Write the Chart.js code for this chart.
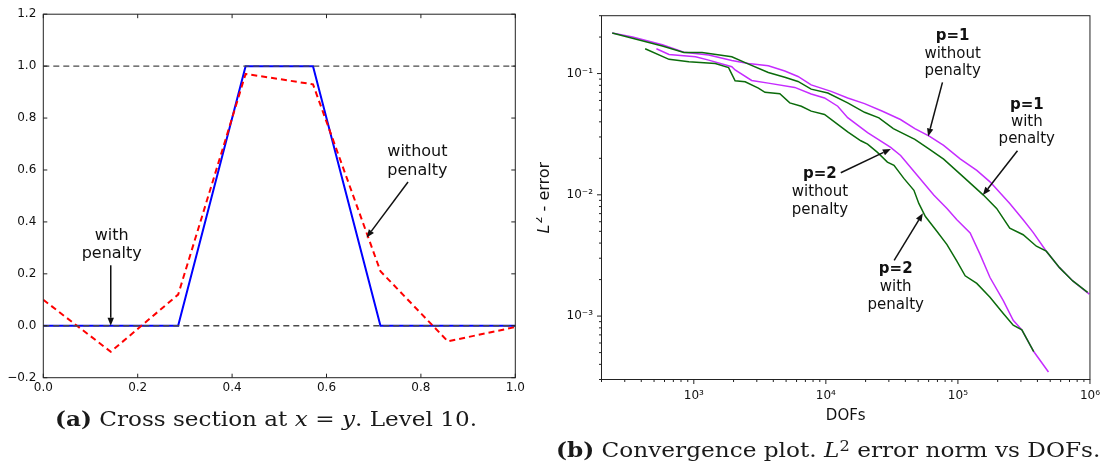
<!DOCTYPE html>
<html><head><meta charset="utf-8">
<script src="https://cdn.jsdelivr.net/npm/chart.js@4/dist/chart.umd.min.js"></script>
<style>
html,body{margin:0;padding:0;background:#fff;}
#wrap{position:relative;width:1109px;height:471px;overflow:hidden;background:#fff;}
#c1box{position:absolute;left:0;top:0;width:540px;height:471px;}
#c2box{position:absolute;left:536px;top:0;width:573px;height:471px;}
.cap{position:absolute;font-family:"DejaVu Serif","Liberation Serif",serif;font-size:20px;line-height:20px;color:#1a1a1a;white-space:nowrap;transform-origin:0 0;}
.cap sup{font-size:0.7em;line-height:0;vertical-align:0.45em;}
</style></head><body>
<div id="wrap">
 <div id="c1box"><canvas id="c1"></canvas></div>
 <div id="c2box"><canvas id="c2"></canvas></div>
 <div class="cap" id="capA" style="top:409px"><b>(a)</b> Cross section at <i>x</i> = <i>y</i>. Level 10.</div>
 <div class="cap" id="capB" style="top:440px"><b>(b)</b> Convergence plot. <i>L</i><sup>2</sup> error norm vs DOFs.</div>
</div>
<script>
// ---------- (a) cross section data ----------
const crossX = [0.0, 0.1429, 0.2857, 0.4286, 0.5714, 0.7143, 0.8571, 1.0];
const crossWithPenalty = [0, 0, 0, 1, 1, 0, 0, 0];
const crossWithoutPenalty = [0.10, -0.10, 0.12, 0.97, 0.93, 0.21, -0.06, -0.005];
const refLevels = [0, 1];
const leftXTicks = [0, 0.2, 0.4, 0.6, 0.8, 1.0];
const leftXTickLabels = ['0.0', '0.2', '0.4', '0.6', '0.8', '1.0'];
const leftYTicks = [-0.2, 0, 0.2, 0.4, 0.6, 0.8, 1.0, 1.2];
const leftYTickLabels = ['\u22120.2', '0.0', '0.2', '0.4', '0.6', '0.8', '1.0', '1.2'];

// ---------- (b) convergence data ----------
const p1NoPenDofs = [241, 344, 578, 841, 1297, 1940, 2592, 3666, 4887, 6150, 7742, 10960, 14630, 19630, 26850, 36730, 47200, 60660, 77960, 104000, 139000, 175000, 247000, 312000, 371000, 467000, 588000, 741000, 988000];
const p1NoPenErr = [0.216, 0.200, 0.173, 0.150, 0.142, 0.128, 0.121, 0.116, 0.105, 0.0946, 0.0807, 0.0713, 0.0629, 0.0565, 0.0489, 0.0418, 0.0351, 0.0305, 0.0256, 0.0198, 0.0159, 0.0128, 0.00849, 0.00622, 0.0049, 0.00343, 0.00251, 0.00195, 0.00152];
const p1PenDofs = [241, 578, 841, 1155, 1940, 2448, 3666, 4887, 6150, 7742, 10350, 14630, 19630, 25230, 32430, 47200, 60660, 77960, 110400, 156000, 196400, 247000, 312000, 393000, 467000, 588000, 741000, 960000];
const p1PenErr = [0.216, 0.169, 0.149, 0.149, 0.1377, 0.123, 0.102, 0.0933, 0.0861, 0.0744, 0.0691, 0.0573, 0.0479, 0.0431, 0.0351, 0.0287, 0.0238, 0.0197, 0.0140, 0.00995, 0.00773, 0.00531, 0.00469, 0.00377, 0.00343, 0.00251, 0.00195, 0.00157];
const p2NoPenDofs = [521, 649, 1030, 1297, 1940, 2055, 2742, 3666, 5815, 7742, 9770, 12300, 14630, 20700, 30960, 36830, 49150, 65600, 82650, 98200, 123800, 147200, 175000, 220600, 262300, 305000, 375000, 485000];
const p2NoPenErr = [0.160, 0.1436, 0.1377, 0.129, 0.114, 0.107, 0.0877, 0.0834, 0.0769, 0.0678, 0.0629, 0.0538, 0.0433, 0.0326, 0.0246, 0.0211, 0.0145, 0.00995, 0.00773, 0.00622, 0.00484, 0.00323, 0.00208, 0.00134, 0.000922, 0.00077, 0.00051, 0.000346];
const p2PenDofs = [428, 649, 917, 1455, 1834, 2055, 2448, 3083, 3460, 4484, 5330, 6520, 7742, 9770, 12300, 14630, 18400, 20700, 24600, 29240, 32810, 39090, 46450, 50580, 56750, 69500, 82650, 98200, 113500, 139000, 175000, 220600, 262300, 305000, 375000];
const p2PenErr = [0.160, 0.131, 0.125, 0.121, 0.112, 0.0871, 0.0855, 0.0759, 0.0700, 0.0682, 0.0573, 0.0538, 0.0490, 0.0460, 0.0381, 0.0330, 0.0279, 0.0262, 0.0224, 0.0186, 0.0175, 0.0136, 0.0109, 0.00849, 0.00662, 0.00499, 0.00389, 0.00284, 0.00215, 0.00186, 0.00143, 0.00105, 0.00084, 0.00077, 0.00051];
const rightXTicks = [1e3, 1e4, 1e5, 1e6];
const rightXTickLabels = ['10\u00B3', '10\u2074', '10\u2075', '10\u2076'];
const rightYTicks = [1e-3, 1e-2, 1e-1];
const rightYTickLabels = ['10\u207B\u00B3', '10\u207B\u00B2', '10\u207B\u00B9'];

// ---------- annotations (data coordinates) ----------
const leftNotes = [
  {lines: ['with', 'penalty'], x: 0.145, y: [0.346, 0.278], from: [0.1429, 0.233], to: [0.1429, 0.0]},
  {lines: ['without', 'penalty'], x: 0.7926, y: [0.669, 0.596], from: [0.7727, 0.554], to: [0.685, 0.340]}
];
const rightNotes = [
  {lines: ['p=1', 'without', 'penalty'], x: 91200, y: [0.204, 0.1445, 0.1038], from: [76400, 0.0845], to: [59500, 0.0303]},
  {lines: ['p=1', 'with', 'penalty'], x: 332500, y: [0.0548, 0.0399, 0.0288], from: [282600, 0.0231], to: [154600, 0.00995]},
  {lines: ['p=2', 'without', 'penalty'], x: 9016, y: [0.01483, 0.01045, 0.0075], from: [12970, 0.0152], to: [31040, 0.0239]},
  {lines: ['p=2', 'with', 'penalty'], x: 33800, y: [0.00243, 0.00172, 0.00124], from: [32900, 0.00288], to: [54300, 0.00705]}
];

const FONT = "'DejaVu Sans', 'Liberation Sans', sans-serif";
Chart.defaults.font.family = FONT;
Chart.defaults.color = '#111';
const MAG = '#c62cff';
const GRN = '#0b6b0b';

function pts(xs, ys) { return xs.map((x, i) => ({x: x, y: ys[i]})); }

function drawArrow(ctx, x0, y0, x1, y1) {
  const a = Math.atan2(y1 - y0, x1 - x0);
  const hl = 8, hw = 3.2;
  const bx = x1 - hl * Math.cos(a), by = y1 - hl * Math.sin(a);
  ctx.beginPath(); ctx.moveTo(x0, y0); ctx.lineTo(bx, by); ctx.stroke();
  ctx.beginPath(); ctx.moveTo(x1, y1);
  ctx.lineTo(bx + hw * Math.sin(a), by - hw * Math.cos(a));
  ctx.lineTo(bx - hw * Math.sin(a), by + hw * Math.cos(a));
  ctx.closePath(); ctx.fill();
}

function drawNotes(chart, notes, size, boldFirst) {
  const ctx = chart.ctx, xs = chart.scales.x, ys = chart.scales.y;
  ctx.save();
  ctx.fillStyle = '#111'; ctx.strokeStyle = '#111'; ctx.lineWidth = 1.5;
  ctx.textAlign = 'center'; ctx.textBaseline = 'middle';
  notes.forEach(n => {
    n.lines.forEach((t, i) => {
      ctx.font = ((boldFirst && i === 0) ? 'bold ' : '') + size + 'px ' + FONT;
      ctx.fillText(t, xs.getPixelForValue(n.x), ys.getPixelForValue(n.y[i]));
    });
    drawArrow(ctx, xs.getPixelForValue(n.from[0]), ys.getPixelForValue(n.from[1]),
                   xs.getPixelForValue(n.to[0]), ys.getPixelForValue(n.to[1]));
  });
  ctx.restore();
}

const leftFrame = {
  id: 'leftFrame',
  afterDraw(chart) {
    const ctx = chart.ctx, a = chart.chartArea, xs = chart.scales.x, ys = chart.scales.y;
    ctx.save();
    ctx.strokeStyle = '#222'; ctx.lineWidth = 1;
    ctx.strokeRect(a.left, a.top, a.right - a.left, a.bottom - a.top);
    const L = 4;
    ctx.beginPath();
    leftXTicks.forEach(v => {
      const p = xs.getPixelForValue(v);
      ctx.moveTo(p, a.bottom); ctx.lineTo(p, a.bottom - L);
      ctx.moveTo(p, a.top); ctx.lineTo(p, a.top + L);
    });
    leftYTicks.forEach(v => {
      const p = ys.getPixelForValue(v);
      ctx.moveTo(a.left, p); ctx.lineTo(a.left + L, p);
      ctx.moveTo(a.right, p); ctx.lineTo(a.right - L, p);
    });
    ctx.stroke();
    ctx.restore();
    drawNotes(chart, leftNotes, 16, false);
  }
};

const rightFrame = {
  id: 'rightFrame',
  afterDraw(chart) {
    const ctx = chart.ctx, a = chart.chartArea, xs = chart.scales.x, ys = chart.scales.y;
    ctx.save();
    ctx.strokeStyle = '#222'; ctx.lineWidth = 1;
    ctx.strokeRect(a.left, a.top, a.right - a.left, a.bottom - a.top);
    ctx.beginPath();
    for (let e = 2; e <= 6; e++) {
      for (let m = 1; m <= 9; m++) {
        const v = m * Math.pow(10, e);
        if (v < xs.min * 0.999 || v > xs.max * 1.001) continue;
        const p = xs.getPixelForValue(v);
        const len = (m === 1) ? 4.5 : 2.5;
        ctx.moveTo(p, a.bottom); ctx.lineTo(p, a.bottom + len);
      }
    }
    for (let e = -4; e <= -1; e++) {
      for (let m = 1; m <= 9; m++) {
        const v = m * Math.pow(10, e);
        if (v < ys.min * 0.999 || v > ys.max * 1.001) continue;
        const p = ys.getPixelForValue(v);
        const len = (m === 1) ? 4.5 : 2.5;
        ctx.moveTo(a.left, p); ctx.lineTo(a.left - len, p);
      }
    }
    ctx.stroke();
    // y axis title: L^2 - error
    ctx.translate(9, (a.top + a.bottom) / 2);
    ctx.rotate(-Math.PI / 2);
    ctx.fillStyle = '#111';
    ctx.textBaseline = 'middle'; ctx.textAlign = 'left';
    const fL = 'italic 16px ' + FONT, fS = '11px ' + FONT, fR = '16px ' + FONT;
    ctx.font = fL; const wL = ctx.measureText('L').width;
    ctx.font = fS; const wS = ctx.measureText('2').width;
    ctx.font = fR; const wR = ctx.measureText(' - error').width;
    let x0 = -(wL + wS + 1 + wR) / 2;
    ctx.font = fL; ctx.fillText('L', x0, 0); x0 += wL + 1;
    ctx.font = fS; ctx.fillText('2', x0, -6); x0 += wS;
    ctx.font = fR; ctx.fillText(' - error', x0, 0);
    ctx.restore();
    drawNotes(chart, rightNotes, 15, true);
  }
};

new Chart(document.getElementById('c1'), {
  type: 'line',
  data: {datasets: [
    {data: [{x: 0, y: refLevels[0]}, {x: 1, y: refLevels[0]}], borderColor: '#4a4a4a', borderWidth: 1.3, borderDash: [6, 4], order: 0},
    {data: [{x: 0, y: refLevels[1]}, {x: 1, y: refLevels[1]}], borderColor: '#4a4a4a', borderWidth: 1.3, borderDash: [6, 4], order: 0},
    {data: pts(crossX, crossWithoutPenalty), borderColor: '#ff0000', borderWidth: 2, borderDash: [6, 4], order: 1},
    {data: pts(crossX, crossWithPenalty), borderColor: '#0000ff', borderWidth: 2, order: 2}
  ]},
  options: {
    responsive: true, maintainAspectRatio: false, animation: false,
    layout: {padding: {left: 0, top: 13.3, right: 24.7, bottom: 63.3}},
    plugins: {legend: {display: false}, tooltip: {enabled: false}},
    elements: {point: {radius: 0}, line: {tension: 0, fill: false}},
    scales: {
      x: {type: 'linear', min: 0, max: 1,
          grid: {display: false, drawTicks: false}, border: {display: false},
          afterBuildTicks: s => { s.ticks = leftXTicks.map(v => ({value: v})); },
          afterFit: s => { s.height = 30; },
          ticks: {autoSkip: false, maxRotation: 0, padding: 3, color: '#111', font: {size: 12},
                  callback: (v, i) => leftXTickLabels[i]}},
      y: {type: 'linear', min: -0.2, max: 1.2,
          grid: {display: false, drawTicks: false}, border: {display: false},
          afterBuildTicks: s => { s.ticks = leftYTicks.map(v => ({value: v})); },
          afterFit: s => { s.width = 43.3; },
          ticks: {autoSkip: false, padding: 7, color: '#111', font: {size: 12},
                  callback: (v, i) => leftYTickLabels[i]}}
    }
  },
  plugins: [leftFrame]
});

new Chart(document.getElementById('c2'), {
  type: 'line',
  data: {datasets: [
    {data: pts(p1NoPenDofs, p1NoPenErr), borderColor: MAG, borderWidth: 1.5, order: 3},
    {data: pts(p2NoPenDofs, p2NoPenErr), borderColor: MAG, borderWidth: 1.5, order: 2},
    {data: pts(p1PenDofs, p1PenErr), borderColor: GRN, borderWidth: 1.5, order: 1},
    {data: pts(p2PenDofs, p2PenErr), borderColor: GRN, borderWidth: 1.5, order: 0}
  ]},
  options: {
    responsive: true, maintainAspectRatio: false, animation: false,
    layout: {padding: {left: 0.5, top: 12.5, right: 15, bottom: 45.6}},
    plugins: {legend: {display: false}, tooltip: {enabled: false}},
    elements: {point: {radius: 0}, line: {tension: 0, fill: false}},
    scales: {
      x: {type: 'logarithmic', min: 200, max: 1e6,
          grid: {display: false, drawTicks: false}, border: {display: false},
          afterBuildTicks: s => { s.ticks = rightXTicks.map(v => ({value: v})); },
          afterFit: s => { s.height = 45.9; },
          title: {display: true, text: 'DOFs', color: '#111', font: {size: 15}, padding: 0},
          ticks: {autoSkip: false, maxRotation: 0, padding: 9, color: '#111', font: {size: 12},
                  callback: (v, i) => rightXTickLabels[i]}},
      y: {type: 'logarithmic', min: 3e-4, max: 0.3,
          grid: {display: false, drawTicks: false}, border: {display: false},
          afterBuildTicks: s => { s.ticks = rightYTicks.map(v => ({value: v})); },
          afterFit: s => { s.width = 65; },
          ticks: {autoSkip: false, padding: 8.5, color: '#111', font: {size: 12},
                  callback: (v, i) => rightYTickLabels[i]}}
    }
  },
  plugins: [rightFrame]
});

function fitCaption(id, centerX, targetW) {
  const el = document.getElementById(id);
  const w = el.offsetWidth;
  el.style.left = (centerX - targetW / 2) + 'px';
  el.style.transform = 'scaleX(' + (targetW / w) + ')';
}
fitCaption('capA', 266, 422);
fitCaption('capB', 828, 544);
</script>
</body></html>
